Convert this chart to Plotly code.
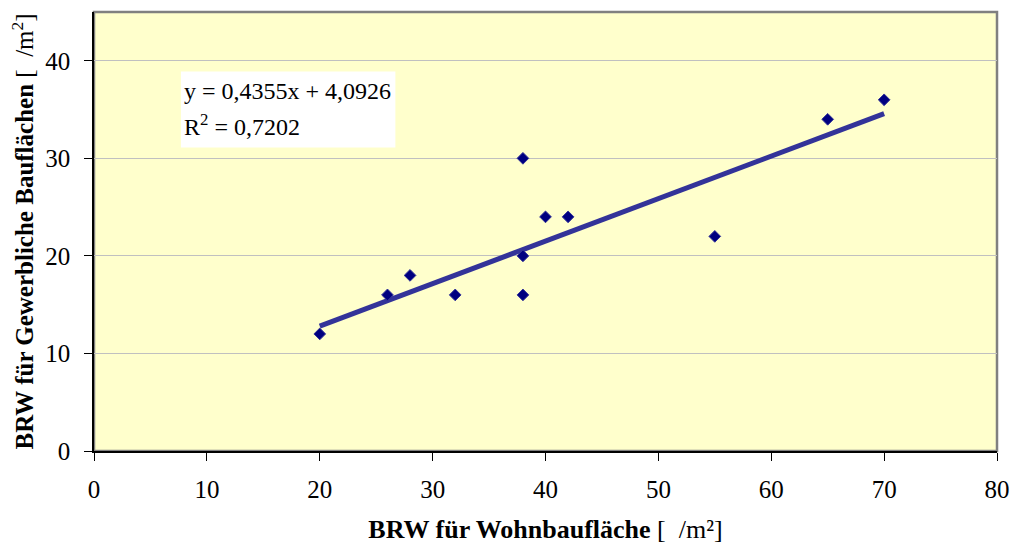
import plotly.graph_objects as go

# BRW values
wohn = [20, 26, 28, 32, 38, 38, 38, 40, 42, 55, 65, 70]
gewerbe = [12, 16, 18, 16, 30, 20, 16, 24, 24, 22, 34, 36]

slope = 0.4355
intercept = 4.0926
r_squared = 0.7202

trend_x = [min(wohn), max(wohn)]
trend_y = [slope * v + intercept for v in trend_x]

FONT = "Liberation Serif"
BG = "#FFFFCC"


def de(v):
    return f"{v:.4f}".replace(".", ",")


fig = go.Figure()
fig.add_trace(go.Scatter(
    x=trend_x, y=trend_y, mode="lines",
    line=dict(color="#333399", width=5),
    hoverinfo="skip", showlegend=False,
))
fig.add_trace(go.Scatter(
    x=wohn, y=gewerbe, mode="markers",
    marker=dict(symbol="diamond", size=9, color="#000080",
                line=dict(color="#333399", width=1)),
    showlegend=False,
))

# trendline label box
fig.add_shape(type="rect", xref="x", yref="y", x0=7.7, x1=26.7, y0=31.1, y1=38.9,
              fillcolor="white", line=dict(width=0), layer="above")
fig.add_annotation(x=7.8, y=36.9, xref="x", yref="y", xanchor="left", yanchor="middle",
                   text=f"y = {de(slope)}x + {de(intercept)}",
                   showarrow=False, font=dict(family=FONT, size=24, color="black"))
fig.add_annotation(x=7.8, y=33.4, xref="x", yref="y", xanchor="left", yanchor="middle",
                   text=f"R<sup>2</sup> = {de(r_squared)}",
                   showarrow=False, font=dict(family=FONT, size=24, color="black"))

# y axis title as a rotated annotation (placed left of the tick labels)
fig.add_annotation(x=0, y=0.5, xref="paper", yref="paper", xanchor="center", yanchor="middle",
                   xshift=-72, textangle=-90, showarrow=False,
                   text="<b>BRW für Gewerbliche Bauflächen</b> [  /m<sup>2</sup>]",
                   font=dict(family=FONT, size=25, color="black"))

# gray frame around plot area
fig.add_shape(type="rect", xref="paper", yref="paper", x0=0, x1=1, y0=0, y1=1,
              line=dict(color="#808080", width=2.5), layer="below")

fig.update_layout(
    width=1013, height=544,
    margin=dict(l=94, r=16, t=12, b=93),
    paper_bgcolor="white", plot_bgcolor=BG,
    font=dict(family=FONT, size=25, color="black"),
    xaxis=dict(
        range=[0, 80], dtick=10, showgrid=False, zeroline=False, automargin=False,
        showline=True, linecolor="black", linewidth=1.5,
        ticks="outside", ticklen=8, tickcolor="black", ticklabelstandoff=7,
        tickfont=dict(family=FONT, size=25),
        title=dict(text="<b>BRW für Wohnbaufläche</b> [  /m²]", standoff=26,
                   font=dict(family=FONT, size=26)),
    ),
    yaxis=dict(
        range=[0, 45], tickvals=[0, 10, 20, 30, 40], showgrid=True,
        gridcolor="#C0C0C0", gridwidth=1, zeroline=False, automargin=False,
        showline=True, linecolor="black", linewidth=1.5,
        ticks="outside", ticklen=8, tickcolor="black", ticklabelstandoff=9,
        tickfont=dict(family=FONT, size=25),
    ),
)

# drop the default page margin so the figure fills the window exactly
fig.write_html("out.html", config={"displayModeBar": False},
               post_script="document.body.style.margin='0';document.body.style.overflow='hidden';")
